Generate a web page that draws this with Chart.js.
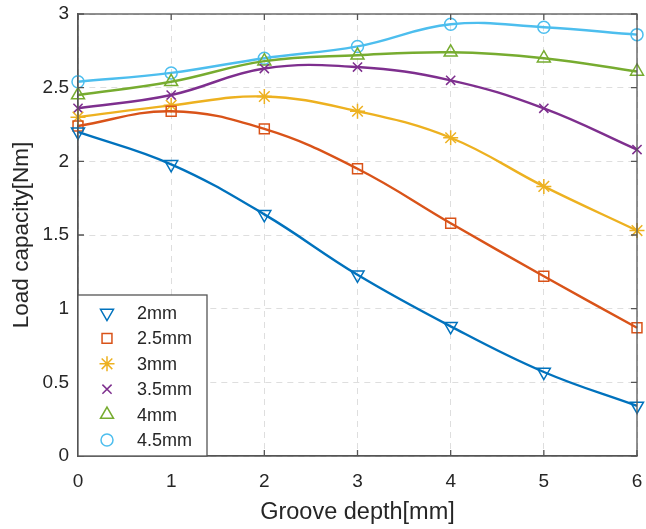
<!DOCTYPE html>
<html>
<head>
<meta charset="utf-8">
<script src="https://cdn.jsdelivr.net/npm/chart.js@4/dist/chart.umd.min.js"></script>
<style>
  html, body { margin: 0; padding: 0; background: #fff; }
  canvas { display: block; }
</style>
</head>
<body>
<canvas id="grafico" width="646" height="529"></canvas>
<script>
// groove depth (mm)
const depths = [0, 1, 2, 3, 4, 5, 6];
// load capacity (Nm) per groove width
const s2mm = [2.20, 1.98, 1.64, 1.23, 0.88, 0.57, 0.34];
const s25mm = [2.24, 2.34, 2.22, 1.95, 1.58, 1.22, 0.87];
const s3mm = [2.30, 2.38, 2.44, 2.34, 2.16, 1.83, 1.53];
const s35mm = [2.36, 2.45, 2.63, 2.64, 2.55, 2.36, 2.08];
const s4mm = [2.45, 2.54, 2.68, 2.72, 2.74, 2.70, 2.61];
const s45mm = [2.54, 2.60, 2.70, 2.78, 2.93, 2.91, 2.86];
const seriesNames = ["2mm", "2.5mm", "3mm", "3.5mm", "4mm", "4.5mm"];
const yTicks = [0, 0.5, 1, 1.5, 2, 2.5, 3];
const xTicks = [0, 1, 2, 3, 4, 5, 6];

const series = [s2mm, s25mm, s3mm, s35mm, s4mm, s45mm];
const cores = ["#0072BD", "#D95319", "#EDB120", "#7E2F8E", "#77AC30", "#4DBEEE"];
const estilos = [
  { pointStyle: "triangle", rotation: 180, radius: 7.5 },
  { pointStyle: "rect", rotation: 0, radius: 7 },
  { pointStyle: "star", rotation: 0, radius: 7.5 },
  { pointStyle: "crossRot", rotation: 0, radius: 6.5 },
  { pointStyle: "triangle", rotation: 0, radius: 7.5 },
  { pointStyle: "circle", rotation: 0, radius: 6 }
];

const datasets = series.map((vals, i) => ({
  label: seriesNames[i],
  data: vals.map((v, j) => ({ x: depths[j], y: v })),
  borderColor: cores[i],
  borderWidth: 2.4,
  tension: 0.4,
  pointStyle: estilos[i].pointStyle,
  pointRotation: estilos[i].rotation,
  pointRadius: estilos[i].radius,
  pointBorderWidth: 1.5,
  pointBorderColor: cores[i],
  pointBackgroundColor: "rgba(0,0,0,0)",
  clip: false
}));

// box frame, inward ticks and legend inside the axes (MATLAB look)
const molduraPlugin = {
  id: "moldura",
  afterDraw(chart) {
    const { ctx, chartArea: a, scales } = chart;
    ctx.save();
    ctx.setLineDash([]);
    ctx.strokeStyle = "#555";
    ctx.lineWidth = 1.3;
    ctx.strokeRect(a.left, a.top, a.right - a.left, a.bottom - a.top);
    ctx.beginPath();
    xTicks.forEach(t => {
      const px = scales.x.getPixelForValue(t);
      ctx.moveTo(px, a.bottom); ctx.lineTo(px, a.bottom - 6);
      ctx.moveTo(px, a.top); ctx.lineTo(px, a.top + 6);
    });
    yTicks.forEach(t => {
      const py = scales.y.getPixelForValue(t);
      ctx.moveTo(a.left, py); ctx.lineTo(a.left + 6, py);
      ctx.moveTo(a.right, py); ctx.lineTo(a.right - 6, py);
    });
    ctx.stroke();

    // legend
    const lx = a.left, lw = 129, lh = 161;
    const ly = a.bottom - lh;
    ctx.fillStyle = "#fff";
    ctx.fillRect(lx, ly, lw, lh);
    ctx.strokeRect(lx, ly, lw, lh);
    ctx.font = "18px 'Liberation Sans', Arial, sans-serif";
    ctx.textBaseline = "middle";
    chart.data.datasets.forEach((ds, i) => {
      const y = ly + 18 + i * 25.4;
      ctx.strokeStyle = ds.borderColor;
      ctx.fillStyle = "rgba(0,0,0,0)";
      ctx.lineWidth = 1.5;
      if (Chart.helpers && Chart.helpers.drawPoint) {
        Chart.helpers.drawPoint(ctx, {
          pointStyle: ds.pointStyle,
          rotation: ds.pointRotation,
          radius: ds.pointRadius,
          borderWidth: 1.5
        }, lx + 29, y);
      }
      ctx.fillStyle = "#262626";
      ctx.fillText(ds.label, lx + 59, y + 1);
    });
    ctx.restore();
  }
};

const ctx = document.getElementById("grafico").getContext("2d");
const fonte = "'Liberation Sans', Arial, sans-serif";

new Chart(ctx, {
  type: "line",
  data: { datasets },
  plugins: [molduraPlugin],
  options: {
    responsive: false,
    animation: false,
    layout: { padding: { top: 14, right: 5, left: 0, bottom: 0 } },
    plugins: {
      legend: { display: false },
      tooltip: { enabled: false }
    },
    scales: {
      x: {
        type: "linear",
        min: 0,
        max: 6,
        afterFit: s => { s.height = 73; s.paddingLeft = 0; s.paddingRight = 0; },
        afterBuildTicks: s => { s.ticks = xTicks.map(v => ({ value: v })); },
        ticks: { color: "#262626", font: { family: fonte, size: 19 }, padding: 14, callback: v => String(v) },
        grid: { color: "#dedede", drawTicks: false, tickLength: 0 },
        border: { color: "#555", width: 1.3, dash: [6, 5] },
        title: {
          display: true,
          text: "Groove depth[mm]",
          color: "#262626",
          font: { family: fonte, size: 23.5 },
          padding: { top: 0, bottom: 2 }
        }
      },
      y: {
        type: "linear",
        min: 0,
        max: 3,
        afterFit: s => { s.width = 78; s.paddingTop = 0; s.paddingBottom = 0; },
        afterBuildTicks: s => { s.ticks = yTicks.map(v => ({ value: v })); },
        ticks: { color: "#262626", font: { family: fonte, size: 19 }, padding: 9, callback: v => String(v) },
        grid: { color: "#dedede", drawTicks: false, tickLength: 0 },
        border: { color: "#555", width: 1.3, dash: [6, 5] },
        title: {
          display: true,
          text: "Load capacity[Nm]",
          color: "#262626",
          font: { family: fonte, size: 22.5 },
          padding: { top: 8, bottom: 0 }
        }
      }
    }
  }
});
</script>
</body>
</html>
